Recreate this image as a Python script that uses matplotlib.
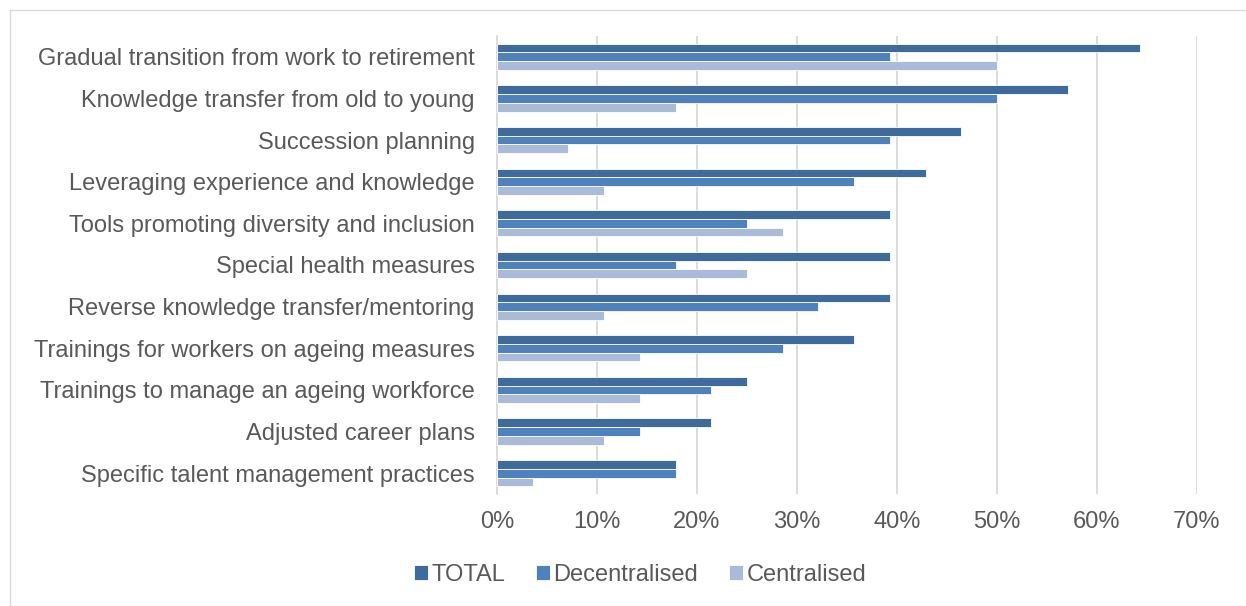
import matplotlib
matplotlib.use("Agg")
import matplotlib.pyplot as plt
from matplotlib.patches import Rectangle
import numpy as np

categories = [
    "Gradual transition from work to retirement",
    "Knowledge transfer from old to young",
    "Succession planning",
    "Leveraging experience and knowledge",
    "Tools promoting diversity and inclusion",
    "Special health measures",
    "Reverse knowledge transfer/mentoring",
    "Trainings for workers on ageing measures",
    "Trainings to manage an ageing workforce",
    "Adjusted career plans",
    "Specific talent management practices",
]
total = [64.3, 57.1, 46.4, 42.9, 39.3, 39.3, 39.3, 35.7, 25.0, 21.4, 17.9]
decentralised = [39.3, 50.0, 39.3, 35.7, 25.0, 17.9, 32.1, 28.6, 21.4, 14.3, 17.9]
centralised = [50.0, 17.9, 7.1, 10.7, 28.6, 25.0, 10.7, 14.3, 14.3, 10.7, 3.6]
series_names = ["TOTAL", "Decentralised", "Centralised"]
xticks = [0, 10, 20, 30, 40, 50, 60, 70]

colors = ["#3E6A9C", "#4E81BD", "#AABBD9"]
plt.rcParams['font.family'] = ['Liberation Sans', 'DejaVu Sans']

fig = plt.figure(figsize=(12.46, 6.06), dpi=100)
ax = fig.add_axes([497/1246, 1 - 494/606, 700/1246, (494 - 36)/606])

n = len(categories)
y = np.arange(n)
h = 0.21
for i, (vals, c, name) in enumerate(zip([total, decentralised, centralised], colors, series_names)):
    ax.barh(y + (i - 1) * h, vals, height=h, color=c, edgecolor="white", linewidth=0.6, label=name, zorder=3)

ax.set_ylim(n - 0.5, -0.5)
ax.set_xlim(0, 70)
ax.set_xticks(xticks)
ax.set_xticklabels([f"{t}%" for t in xticks])
ax.set_yticks(y)
ax.set_yticklabels(categories)
ax.tick_params(axis="both", length=0, labelsize=17, colors="#595959")
ax.tick_params(axis="y", pad=16)
ax.tick_params(axis="x", pad=12)
ax.grid(axis="x", color="#D9D9D9", linewidth=1.3, zorder=0)
for s in ["top", "right", "bottom"]:
    ax.spines[s].set_visible(False)
ax.spines["left"].set_color("#D9D9D9")
ax.spines["left"].set_linewidth(1.3)

leg = fig.legend(loc="center", bbox_to_anchor=(640/1246, 1 - 575/606), ncol=3, frameon=False,
                 fontsize=17, handlelength=0.6, handleheight=0.6, handletextpad=0.15, columnspacing=1.3)
for t in leg.get_texts():
    t.set_color("#595959")

fig.patches.append(Rectangle((10/1246, 0), 1.2, 1 - 10/606, transform=fig.transFigure,
                             fill=False, edgecolor="#D9D9D9", linewidth=1))

fig.savefig("out.png", dpi=100, facecolor="white")
